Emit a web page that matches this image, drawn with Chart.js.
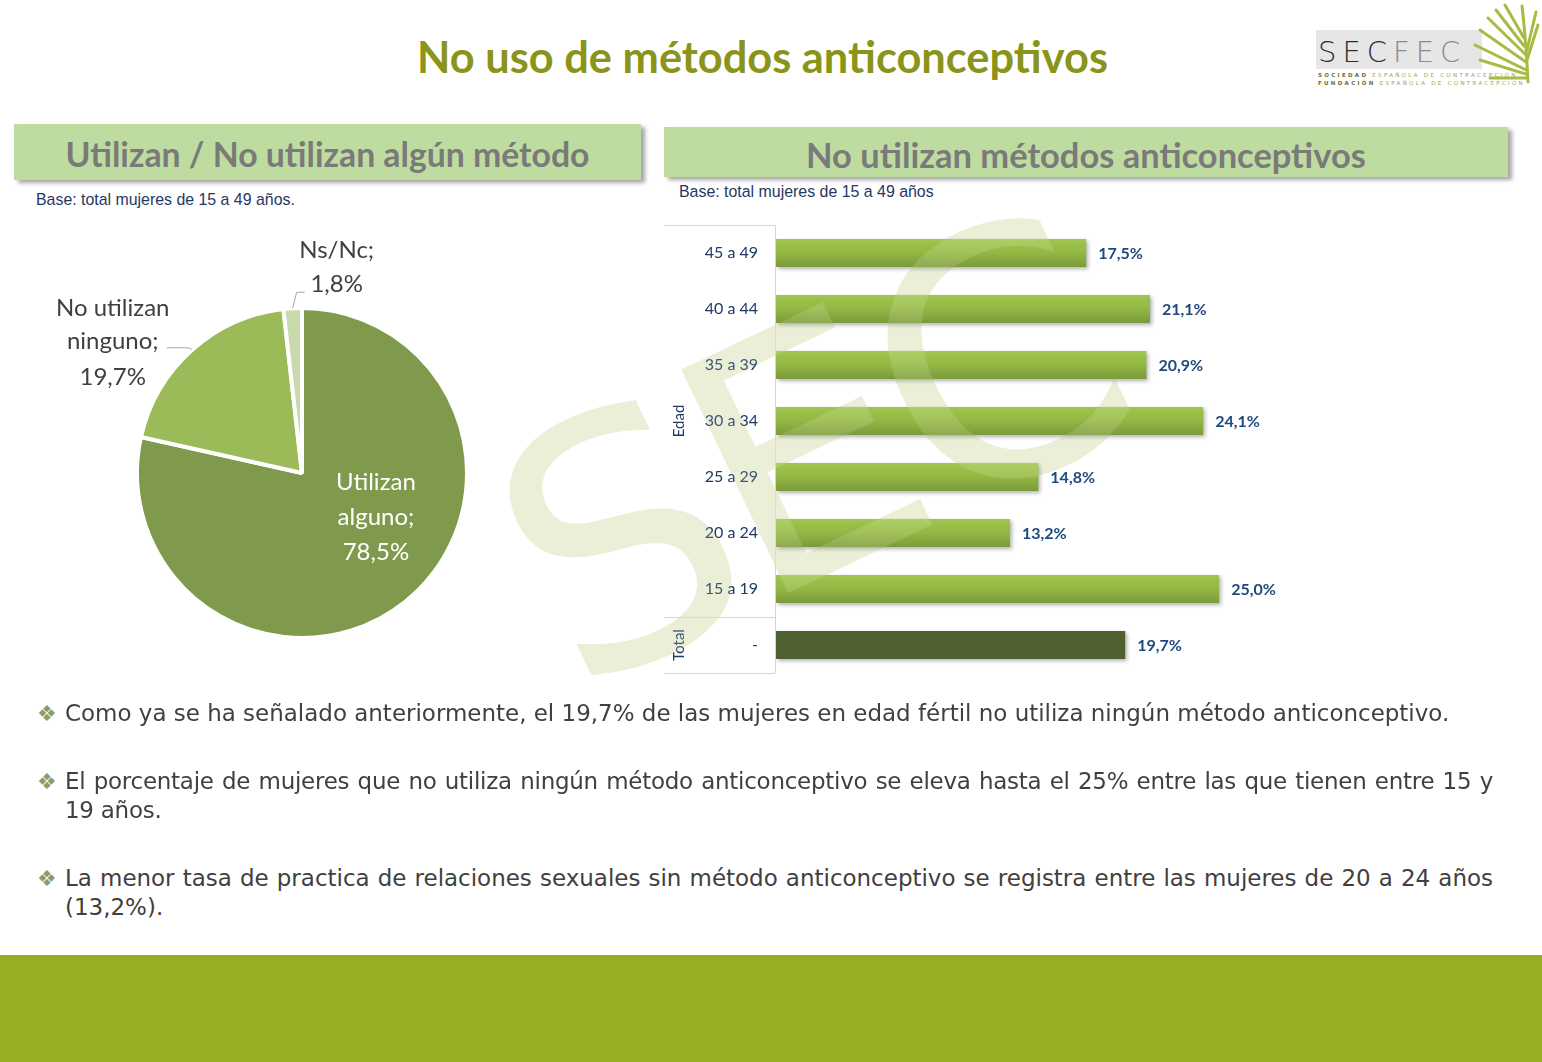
<!DOCTYPE html>
<html><head><meta charset="utf-8">
<script src="https://cdn.jsdelivr.net/npm/chart.js@4.4.0/dist/chart.umd.min.js"></script>
<style>
html,body{margin:0;padding:0;background:#fff;}
body{width:1542px;height:1062px;position:relative;overflow:hidden;font-family:'DejaVu Sans',sans-serif;}
.abs{position:absolute;}
#title{left:0;width:1525px;top:30px;text-align:center;}
#title span{font-family:'Lato';font-weight:700;font-size:42px;color:#8A9419;white-space:nowrap;display:inline-block;}
.hdr{background:#BEDCA0;box-shadow:4px 3px 4px rgba(0,0,0,0.35);color:#7A7A7A;font-family:'Lato';font-weight:700;text-align:center;white-space:nowrap;}
.hdr span{display:inline-block;}
#h1{left:14px;top:124px;width:627px;height:56px;line-height:60px;font-size:33px;}
#h2{left:664px;top:127px;width:844px;height:50px;line-height:55px;font-size:33px;}
.base{font-family:'Liberation Sans';font-size:15px;color:#1F3864;white-space:nowrap;}
#b1{left:36px;top:191px;}
#b2{left:679px;top:183px;}
.bul{color:#8C9B6A;font-size:22px;line-height:22px;}
.par{left:65px;width:1428px;font-family:'DejaVu Sans';font-size:21px;line-height:29px;color:#404040;text-align:justify;}
#footer{left:0;top:955px;width:1542px;height:107px;background:#96AE21;}
.wm{left:808px;top:453px;transform:translate(-50%,-50%) rotate(-25.5deg);font-family:'DejaVu Sans';font-size:340px;line-height:1;white-space:nowrap;pointer-events:none;letter-spacing:-13px;}
#wm1{color:#E8EDD4;}
#wm2{color:rgba(255,255,235,0.14);}
</style></head>
<body>
<div id="title" class="abs"><span id="tt">No uso de métodos anticonceptivos</span></div>

<svg class="abs" style="left:1300px;top:0px" width="242" height="100">
  <rect x="16" y="30" width="166" height="39" fill="#E6E6E6"/>
  <text x="18" y="62" font-family="DejaVu Sans" font-weight="300" font-size="29" letter-spacing="6" fill="#2b2b2b">SEC<tspan fill="#8c8c8c">FEC</tspan></text>
  <text x="18" y="77" font-family="DejaVu Sans" font-size="5.5" letter-spacing="2.3" fill="#9AA550"><tspan fill="#6d6d3a" font-weight="700">SOCIEDAD</tspan> ESPAÑOLA DE CONTRACEPCIÓN</text>
  <text x="18" y="85" font-family="DejaVu Sans" font-size="5.5" letter-spacing="2.3" fill="#9AA550"><tspan fill="#6d6d3a" font-weight="700">FUNDACIÓN</tspan> ESPAÑOLA DE CONTRACEPCIÓN</text>
  <g stroke="#A9BA45" stroke-width="3" stroke-linecap="round" fill="none">
    <path d="M228 82 Q226 40 222 6"/>
    <path d="M226 70 L175 45"/><path d="M226 62 L180 30"/><path d="M225 54 L188 18"/><path d="M224 46 L196 10"/>
    <path d="M224 38 L205 5"/><path d="M226 74 L180 60"/><path d="M227 78 L190 78"/>
    <path d="M227 60 L238 25"/><path d="M227 50 L236 12"/>
  </g>
</svg>

<div id="h1" class="abs hdr"><span id="h1t">Utilizan / No utilizan algún método</span></div>
<div id="h2" class="abs hdr"><span id="h2t">No utilizan métodos anticonceptivos</span></div>
<div id="b1" class="abs base"><span id="b1t">Base: total mujeres de 15 a 49 años.</span></div>
<div id="b2" class="abs base"><span id="b2t">Base: total mujeres de 15 a 49 años</span></div>

<div id="wm1" class="abs wm">SEC</div>

<canvas id="pie" class="abs" style="left:20px;top:225px" width="580" height="440"></canvas>
<canvas id="bar" class="abs" style="left:660px;top:215px" width="860" height="470"></canvas>

<div id="wm2" class="abs wm">SEC</div>

<div class="abs bul" style="left:37px;top:703px">❖</div>
<div id="p1" class="abs par" style="top:699px"><span id="p1t">Como ya se ha señalado anteriormente, el 19,7% de las mujeres en edad fértil no utiliza ningún método anticonceptivo.</span></div>
<div class="abs bul" style="left:37px;top:771px">❖</div>
<div id="p2" class="abs par" style="top:767px;letter-spacing:-0.25px">El porcentaje de mujeres que no utiliza ningún método anticonceptivo se eleva hasta el 25% entre las que tienen entre 15 y 19 años.</div>
<div class="abs bul" style="left:37px;top:868px">❖</div>
<div id="p3" class="abs par" style="top:864px">La menor tasa de practica de relaciones sexuales sin método anticonceptivo se registra entre las mujeres de 20 a 24 años (13,2%).</div>

<div id="footer" class="abs"></div>

<script>
// ---------- DATA ----------
const pieLabels = ['Utilizan alguno', 'No utilizan ninguno', 'Ns/Nc'];
const piePct = [78.5, 19.7, 1.8];
const ageLabels = ['45 a 49', '40 a 44', '35 a 39', '30 a 34', '25 a 29', '20 a 24', '15 a 19', '-'];
const noUsePct = [17.5, 21.1, 20.9, 24.1, 14.8, 13.2, 25.0, 19.7];
const groupLabels = ['Edad', 'Total'];
const groupSizes = [7, 1];

// ---------- text fitting ----------
function fit(id, w) {
  const el = document.getElementById(id);
  const fs = parseFloat(getComputedStyle(el).fontSize);
  const cur = el.getBoundingClientRect().width;
  el.style.fontSize = (fs * w / cur) + 'px';
}
fit('tt', 691); fit('h1t', 524); fit('h2t', 560); fit('b1t', 259); fit('b2t', 255);
(function(){
  const s = document.getElementById('p1t');
  s.style.whiteSpace = 'nowrap';
  const fs = parseFloat(getComputedStyle(s).fontSize);
  const w = s.getBoundingClientRect().width;
  const nf = fs * 1385 / w;
  s.style.whiteSpace = '';
  ['p1','p2','p3'].forEach(id => document.getElementById(id).style.fontSize = nf + 'px');
})();

const fmt = v => v.toFixed(1).replace('.', ',') + '%';

// ---------- PIE ----------
const pieLabelPlugin = {
  id: 'pieLabels',
  afterDatasetsDraw(chart) {
    const ctx = chart.ctx;
    const arcs = chart.getDatasetMeta(0).data;
    ctx.save();
    ctx.font = '24px Lato';
    ctx.textAlign = 'center';
    ctx.textBaseline = 'middle';
    const a0 = arcs[0];
    const r = a0.outerRadius;
    const words0 = pieLabels[0].split(' ');
    const l0 = [words0[0], words0[1] + ';', fmt(piePct[0])];
    ctx.fillStyle = '#FFFFFF';
    const cx0 = a0.x + 0.448 * r, cy0 = a0.y + 0.267 * r;
    l0.forEach((t, i) => ctx.fillText(t, cx0, cy0 + (i - 1) * 35));
    ctx.fillStyle = '#404040';
    ctx.strokeStyle = '#A6A6A6';
    ctx.lineWidth = 1;
    const a1 = arcs[1];
    const m1 = (a1.startAngle + a1.endAngle) / 2;
    const p1x = a1.x + a1.outerRadius * Math.cos(m1), p1y = a1.y + a1.outerRadius * Math.sin(m1);
    ctx.beginPath(); ctx.moveTo(p1x, p1y - 1); ctx.lineTo(p1x - 4, p1y - 2.5); ctx.lineTo(p1x - 25, p1y - 2.5); ctx.stroke();
    const w1 = pieLabels[1].split(' ');
    const l1 = [w1[0] + ' ' + w1[1], w1[2] + ';', fmt(piePct[1])];
    const bx1 = p1x - 79;
    [-42, -9, 27].forEach((dy, i) => ctx.fillText(l1[i], bx1, p1y + dy));
    const a2 = arcs[2];
    const m2 = (a2.startAngle + a2.endAngle) / 2;
    const p2x = a2.x + a2.outerRadius * Math.cos(m2), p2y = a2.y + a2.outerRadius * Math.sin(m2);
    ctx.beginPath(); ctx.moveTo(p2x, p2y); ctx.lineTo(p2x + 4, p2y - 16); ctx.lineTo(p2x + 12, p2y - 16); ctx.stroke();
    const l2 = [pieLabels[2] + ';', fmt(piePct[2])];
    ctx.fillText(l2[0], p2x + 44, p2y - 58);
    ctx.fillText(l2[1], p2x + 44, p2y - 24);
    ctx.restore();
  }
};
new Chart(document.getElementById('pie'), {
  type: 'pie',
  data: { labels: pieLabels, datasets: [{ data: piePct, backgroundColor: ['#7F9A4C', '#9BBB59', '#C8D9AE'], borderColor: '#FFFFFF', borderWidth: 4 }] },
  options: {
    responsive: false, animation: false, events: [],
    layout: { padding: { left: 115, right: 131, top: 81, bottom: 25 } },
    plugins: { legend: { display: false }, tooltip: { enabled: false } }
  },
  plugins: [pieLabelPlugin]
});

// ---------- BAR ----------
function barFill(c) {
  const flat = '#8FB045';
  if (c.dataIndex === undefined) return flat;
  if (c.dataIndex === ageLabels.length - 1) return '#4F6130';
  const ys = c.chart.scales && c.chart.scales.y;
  if (!ys) return flat;
  const yc = ys.getPixelForValue(c.dataIndex);
  const h = (ys.height / ageLabels.length) * 0.5;
  if (!isFinite(yc) || !isFinite(h) || h <= 0) return flat;
  const g = c.chart.ctx.createLinearGradient(0, yc - h / 2, 0, yc + h / 2);
  g.addColorStop(0, '#A0C64E');
  g.addColorStop(0.5, '#92B743');
  g.addColorStop(1, '#7B9A3A');
  return g;
}
const shadowPlugin = {
  id: 'shadow',
  beforeDatasetDraw(chart) {
    const ctx = chart.ctx; ctx.save();
    ctx.shadowColor = 'rgba(0,0,0,0.3)'; ctx.shadowBlur = 4; ctx.shadowOffsetX = 2; ctx.shadowOffsetY = 2;
  },
  afterDatasetDraw(chart) { chart.ctx.restore(); }
};
const barExtras = {
  id: 'barExtras',
  afterDatasetsDraw(chart) {
    const ctx = chart.ctx;
    const els = chart.getDatasetMeta(0).data;
    ctx.save();
    ctx.font = 'bold 16px Lato';
    ctx.fillStyle = '#1F497D';
    ctx.textBaseline = 'middle';
    els.forEach((el, i) => ctx.fillText(fmt(noUsePct[i]), el.x + 12, el.y + 1));
    const ys = chart.scales.y, area = chart.chartArea;
    const step = ys.height / ageLabels.length;
    ctx.strokeStyle = '#C9D6EA';
    ctx.lineWidth = 1;
    const L = area.left - 0.5;
    ctx.beginPath();
    ctx.moveTo(L, area.top); ctx.lineTo(L, area.bottom);
    let idx = 0;
    const bounds = [area.top];
    groupSizes.forEach(n => { idx += n; bounds.push(area.top + idx * step); });
    bounds.forEach(b => { const yy = Math.round(b) + 0.5; ctx.moveTo(4, yy); ctx.lineTo(L, yy); });
    ctx.stroke();
    ctx.font = '15px Lato';
    ctx.fillStyle = '#1F3864';
    ctx.textAlign = 'center';
    groupLabels.forEach((g, i) => {
      const mid = (bounds[i] + bounds[i + 1]) / 2;
      ctx.save(); ctx.translate(19, mid); ctx.rotate(-Math.PI / 2); ctx.fillText(g, 0, 0); ctx.restore();
    });
    ctx.restore();
  }
};
new Chart(document.getElementById('bar'), {
  type: 'bar',
  data: { labels: ageLabels, datasets: [{ data: noUsePct, backgroundColor: barFill, borderWidth: 0, barPercentage: 0.5, categoryPercentage: 1 }] },
  options: {
    indexAxis: 'y', responsive: false, animation: false, events: [],
    layout: { padding: { top: 10, bottom: 12, right: 35, left: 0 } },
    plugins: { legend: { display: false }, tooltip: { enabled: false } },
    scales: {
      x: { display: false, min: 0, max: 40 },
      y: {
        grid: { display: false, drawTicks: false }, border: { display: false },
        ticks: { color: '#1F3864', font: { family: 'Lato', size: 16 }, padding: 18 },
        afterFit(s) { s.width = 116; s.paddingTop = 0; s.paddingBottom = 0; }
      }
    }
  },
  plugins: [shadowPlugin, barExtras]
});
</script>
</body></html>
